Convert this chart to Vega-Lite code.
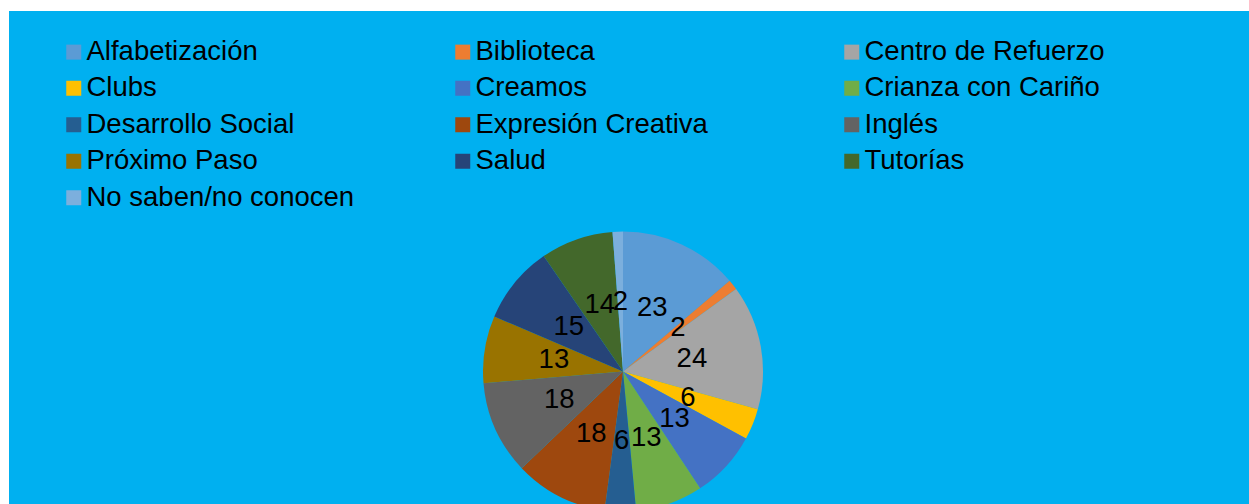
{
  "$schema": "https://vega.github.io/schema/vega-lite/v6.json",
  "width": 1240,
  "height": 493,
  "autosize": {"type": "none"},
  "padding": {"left": 9, "top": 11, "right": 0, "bottom": 0},
  "background": "white",
  "view": {"fill": "#00B0F0", "stroke": null},
  "config": {
    "view": {"fill": "#00B0F0", "stroke": null},
    "font": "Liberation Sans"
  },
  "data": {
    "values": [
      {"idx": 1, "programa": "Alfabetización", "valor": 23},
      {"idx": 2, "programa": "Biblioteca", "valor": 2},
      {"idx": 3, "programa": "Centro de Refuerzo", "valor": 24},
      {"idx": 4, "programa": "Clubs", "valor": 6},
      {"idx": 5, "programa": "Creamos", "valor": 13},
      {"idx": 6, "programa": "Crianza con Cariño", "valor": 13},
      {"idx": 7, "programa": "Desarrollo Social", "valor": 6},
      {"idx": 8, "programa": "Expresión Creativa", "valor": 18},
      {"idx": 9, "programa": "Inglés", "valor": 18},
      {"idx": 10, "programa": "Próximo Paso", "valor": 13},
      {"idx": 11, "programa": "Salud", "valor": 15},
      {"idx": 12, "programa": "Tutorías", "valor": 14},
      {"idx": 13, "programa": "No saben/no conocen", "valor": 2}
    ]
  },
  "encoding": {
    "theta": {"field": "valor", "type": "quantitative", "stack": true},
    "order": {"field": "idx", "type": "quantitative"}
  },
  "layer": [
    {
      "mark": {"type": "arc", "outerRadius": 140, "xOffset": -6, "yOffset": 114},
      "encoding": {
        "color": {
          "field": "programa",
          "type": "nominal",
          "scale": {
            "domain": ["Alfabetización", "Biblioteca", "Centro de Refuerzo", "Clubs", "Creamos", "Crianza con Cariño", "Desarrollo Social", "Expresión Creativa", "Inglés", "Próximo Paso", "Salud", "Tutorías", "No saben/no conocen"],
            "range": ["#5B9BD5", "#ED7D31", "#A5A5A5", "#FFC000", "#4472C4", "#70AD47", "#255E91", "#9E480E", "#636363", "#997300", "#264478", "#43682B", "#7CAFDD"]
          },
          "legend": {
            "title": null,
            "orient": "none",
            "legendX": 51,
            "legendY": 27,
            "direction": "horizontal",
            "columns": 3,
            "gridAlign": "all",
            "columnPadding": 94,
            "rowPadding": 7.5,
            "padding": 0,
            "symbolType": "square",
            "symbolSize": 225,
            "symbolStrokeWidth": 0,
            "labelFontSize": 27.5,
            "labelFont": "Liberation Sans",
            "labelColor": "black",
            "labelOffset": -1,
            "labelLimit": 0
          }
        }
      }
    },
    {
      "mark": {"type": "text", "radius": 70, "xOffset": -6, "yOffset": 114, "fontSize": 27.5, "font": "Liberation Sans", "color": "black", "align": "center", "baseline": "middle"},
      "encoding": {
        "text": {"field": "valor", "type": "quantitative"}
      }
    }
  ]
}
